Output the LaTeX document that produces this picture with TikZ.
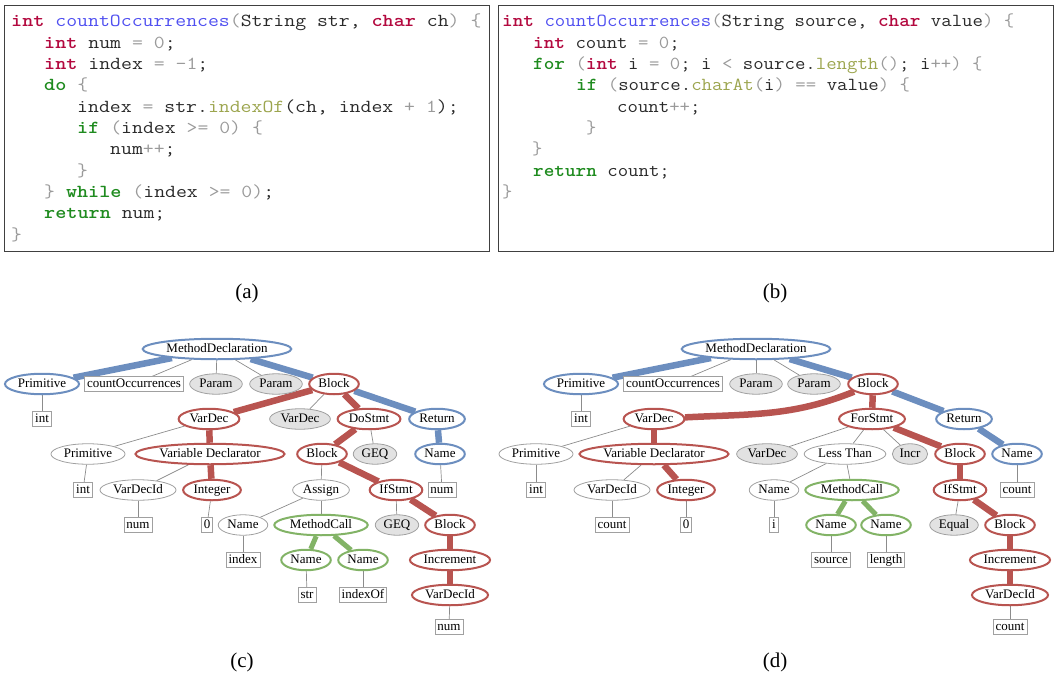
\documentclass[tikz,border=0pt]{standalone}
\usepackage{fontspec}
\setmainfont{Liberation Serif}
\usetikzlibrary{shapes.geometric}
\definecolor{cblue}{HTML}{6C8EBF}
\definecolor{cred}{HTML}{B85450}
\definecolor{cgreen}{HTML}{82B366}
\definecolor{kwred}{HTML}{B3093F}
\definecolor{kwgreen}{HTML}{1F8B1F}
\definecolor{fnblue}{HTML}{4F4FF0}
\definecolor{mcol}{HTML}{9CA54E}
\definecolor{opgray}{HTML}{9A9A9A}
\definecolor{txt}{HTML}{2A2A2A}
\definecolor{nodegray}{HTML}{A0A0A0}
\definecolor{edgegray}{HTML}{8C8C8C}
\definecolor{fillgray}{HTML}{E2E2E2}
\definecolor{boxline}{HTML}{404040}
\newcommand{\ckw}[1]{\textcolor{kwred}{\textbf{#1}}}
\newcommand{\ckg}[1]{\textcolor{kwgreen}{\textbf{#1}}}
\newcommand{\cfn}[1]{\textcolor{fnblue}{#1}}
\newcommand{\cme}[1]{\textcolor{mcol}{#1}}
\newcommand{\cop}[1]{\textcolor{opgray}{#1}}
\newcommand{\sca}[1]{\scalebox{0.98}[0.85]{#1}}
\newcommand{\scb}[1]{\scalebox{0.937}[0.85]{#1}}
\pgfdeclarelayer{bg}
\pgfsetlayers{bg,main}
\tikzset{
  ast/.style={ellipse, inner xsep=2pt, inner ysep=0pt, minimum height=20.5pt,
    text height=9pt, text depth=2.5pt, fill=white, font=\fontsize{13}{15}\selectfont},
  plain/.style={ast, draw=nodegray, line width=0.8pt},
  grey/.style={ast, draw=nodegray, line width=0.8pt, fill=fillgray},
  bnode/.style={ast, draw=cblue, line width=2pt},
  rnode/.style={ast, draw=cred, line width=2pt},
  gnode/.style={ast, draw=cgreen, line width=2pt},
  leaf/.style={rectangle, draw=nodegray, line width=0.8pt, inner xsep=2.5pt, inner ysep=1.5pt,
    text height=9pt, text depth=2.5pt, fill=white, font=\fontsize{13}{15}\selectfont},
  te/.style={draw=edgegray, line width=0.7pt},
  be/.style={draw=cblue, line width=6.5pt},
  re/.style={draw=cred, line width=6.5pt},
  ge/.style={draw=cgreen, line width=5pt},
  code/.style={anchor=base west, inner sep=0pt, text=txt, font=\ttfamily\frenchspacing\fontsize{21.6}{24}\selectfont},
  codebox/.style={draw=boxline, line width=1.3pt, anchor=north west, inner sep=0pt},
  caption/.style={font=\fontsize{21}{24}\selectfont},
}
\begin{document}
\begin{tikzpicture}[x=1pt,y=1pt]
\useasboundingbox (0,0) rectangle (1055,-677);
% ---------------- code boxes ----------------
\node[codebox, minimum width=485pt, minimum height=246pt] (boxa) at (4,-5) {};
\node[codebox, minimum width=555pt, minimum height=246pt] (boxb) at (497.5,-5) {};

\node[code] (a1) at (11,-27) {\sca{\ckw{int} \cfn{countOccurrences}\cop{(}String str, \ckw{char} ch\cop{)} \cop{\{}}};
\node[code] (a2) at (44,-48.3) {\sca{\ckw{int} num \cop{= 0};}};
\node[code] (a3) at (44,-69.6) {\sca{\ckw{int} index \cop{= -1};}};
\node[code] (a4) at (44,-90.9) {\sca{\ckg{do} \cop{\{}}};
\node[code] (a5) at (77,-112.2) {\sca{index \cop{=} str.\cme{indexOf}(ch, index \cop{+ 1});}};
\node[code] (a6) at (77,-133.5) {\sca{\ckg{if} \cop{(}index \cop{>= 0)} \cop{\{}}};
\node[code] (a7) at (110,-154.8) {\sca{num\cop{++};}};
\node[code] (a8) at (77,-176.1) {\sca{\cop{\}}}};
\node[code] (a9) at (44,-197.4) {\sca{\cop{\}} \ckg{while} \cop{(}index \cop{>= 0)};}};
\node[code] (a10) at (44,-218.7) {\sca{\ckg{return} num;}};
\node[code] (a11) at (11,-240) {\sca{\cop{\}}}};

\node[code] (b1) at (502,-27) {\scb{\ckw{int} \cfn{countOccurrences}\cop{(}String source, \ckw{char} value\cop{)} \cop{\{}}};
\node[code] (b2) at (533,-48.3) {\scb{\ckw{int} count \cop{= 0};}};
\node[code] (b3) at (533,-69.6) {\scb{\ckg{for} \cop{(}\ckw{int} i \cop{= 0}; i \cop{<} source.\cme{length}\cop{()}; i\cop{++)} \cop{\{}}};
\node[code] (b4) at (576,-90.9) {\scb{\ckg{if} \cop{(}source.\cme{charAt}\cop{(}i\cop{)} \cop{==} value\cop{)} \cop{\{}}};
\node[code] (b5) at (617,-112.2) {\scb{count\cop{++};}};
\node[code] (b6) at (586,-133.5) {\scb{\cop{\}}}};
\node[code] (b7) at (532,-154.8) {\scb{\cop{\}}}};
\node[code] (b8) at (533,-176.1) {\scb{\ckg{return} count;}};
\node[code] (b9) at (502,-197.4) {\scb{\cop{\}}}};

\node[caption] (capa) at (247,-293) {(a)};
\node[caption] (capb) at (775,-293) {(b)};
\node[caption] (capc) at (242,-662) {(c)};
\node[caption] (capd) at (775,-662) {(d)};

% ---------------- tree (c) ----------------
\node[bnode] (c-md) at (217,-349) {MethodDeclaration};
\node[bnode] (c-prim) at (42,-384) {Primitive};
\node[leaf]  (c-co) at (134,-384) {countOccurrences};
\node[grey]  (c-p1) at (216,-384) {Param};
\node[grey]  (c-p2) at (276,-384) {Param};
\node[rnode] (c-blk) at (334,-384) {Block};
\node[leaf]  (c-int1) at (42,-419) {int};
\node[rnode] (c-vd) at (209,-419) {VarDec};
\node[grey]  (c-vd2) at (300,-419) {VarDec};
\node[rnode] (c-do) at (369,-419) {DoStmt};
\node[bnode] (c-ret) at (437,-419) {Return};
\node[plain] (c-prim2) at (88,-454) {Primitive};
\node[rnode] (c-vdecl) at (210,-454) {Variable Declarator};
\node[rnode] (c-blk2) at (322,-454) {Block};
\node[grey]  (c-geq) at (375,-454) {GEQ};
\node[bnode] (c-nm) at (440,-454) {Name};
\node[leaf]  (c-int2) at (83,-490) {int};
\node[plain] (c-vdid) at (138,-490) {VarDecId};
\node[rnode] (c-intg) at (212,-490) {Integer};
\node[plain] (c-asg) at (321,-490) {Assign};
\node[rnode] (c-ifs) at (396,-490) {IfStmt};
\node[leaf]  (c-num1) at (442,-490) {num};
\node[leaf]  (c-num2) at (138,-525) {num};
\node[leaf]  (c-zero) at (207,-525) {0};
\node[plain] (c-nm2) at (243,-525) {Name};
\node[gnode] (c-mc) at (321,-525) {MethodCall};
\node[grey]  (c-geq2) at (397,-525) {GEQ};
\node[rnode] (c-blk3) at (450,-525) {Block};
\node[leaf]  (c-idx) at (243,-560) {index};
\node[gnode] (c-nm3) at (306,-560) {Name};
\node[gnode] (c-nm4) at (363,-560) {Name};
\node[rnode] (c-inc) at (450,-560) {Increment};
\node[leaf]  (c-str) at (307,-595) {str};
\node[leaf]  (c-iof) at (363,-595) {indexOf};
\node[rnode] (c-vdid2) at (450,-595) {VarDecId};
\node[leaf]  (c-num3) at (449,-627) {num};

% ---------------- tree (d) ----------------
\node[bnode] (d-md) at (756,-349) {MethodDeclaration};
\node[bnode] (d-prim) at (581,-384) {Primitive};
\node[leaf]  (d-co) at (673,-384) {countOccurrences};
\node[grey]  (d-p1) at (756,-384) {Param};
\node[grey]  (d-p2) at (814,-384) {Param};
\node[rnode] (d-blk) at (873,-384) {Block};
\node[leaf]  (d-int1) at (581,-419) {int};
\node[rnode] (d-vd) at (654,-419) {VarDec};
\node[rnode] (d-for) at (872,-419) {ForStmt};
\node[bnode] (d-ret) at (964,-419) {Return};
\node[plain] (d-prim2) at (536,-454) {Primitive};
\node[rnode] (d-vdecl) at (654,-454) {Variable Declarator};
\node[grey]  (d-vd2) at (767,-454) {VarDec};
\node[plain] (d-lt) at (845,-454) {Less Than};
\node[grey]  (d-incr) at (910,-454) {Incr};
\node[rnode] (d-blk2) at (960,-454) {Block};
\node[bnode] (d-nm) at (1017,-454) {Name};
\node[leaf]  (d-int2) at (536,-490) {int};
\node[plain] (d-vdid) at (612,-490) {VarDecId};
\node[rnode] (d-intg) at (686,-490) {Integer};
\node[plain] (d-nm2) at (774,-490) {Name};
\node[gnode] (d-mc) at (852,-490) {MethodCall};
\node[rnode] (d-ifs) at (960,-490) {IfStmt};
\node[leaf]  (d-cnt1) at (1017,-490) {count};
\node[leaf]  (d-cnt2) at (612,-525) {count};
\node[leaf]  (d-zero) at (686,-525) {0};
\node[leaf]  (d-i) at (774,-525) {i};
\node[gnode] (d-nm3) at (831,-525) {Name};
\node[gnode] (d-nm4) at (886,-525) {Name};
\node[grey]  (d-eq) at (954,-525) {Equal};
\node[rnode] (d-blk3) at (1010,-525) {Block};
\node[leaf]  (d-src) at (831,-560) {source};
\node[leaf]  (d-len) at (886,-560) {length};
\node[rnode] (d-inc) at (1010,-560) {Increment};
\node[rnode] (d-vdid2) at (1010,-595) {VarDecId};
\node[leaf]  (d-cnt3) at (1010,-627) {count};

% ---------------- edges ----------------
\begin{pgfonlayer}{bg}
% (c)
\draw[be] (c-md) -- (c-prim);
\draw[te] (c-md) -- (c-co);
\draw[te] (c-md) -- (c-p1);
\draw[te] (c-md) -- (c-p2);
\draw[be] (c-md) -- (c-blk);
\draw[te] (c-prim) -- (c-int1);
\draw[re] (c-blk) -- (c-vd);
\draw[te] (c-blk) -- (c-vd2);
\draw[re] (c-blk) -- (c-do);
\draw[be] (c-blk) -- (c-ret);
\draw[te] (c-vd) -- (c-prim2);
\draw[re] (c-vd) -- (c-vdecl);
\draw[re] (c-do) -- (c-blk2);
\draw[te] (c-do) -- (c-geq);
\draw[be] (c-ret) -- (c-nm);
\draw[te] (c-prim2) -- (c-int2);
\draw[te] (c-vdecl) -- (c-vdid);
\draw[re] (c-vdecl) -- (c-intg);
\draw[te] (c-blk2) -- (c-asg);
\draw[re] (c-blk2) -- (c-ifs);
\draw[te] (c-nm) -- (c-num1);
\draw[te] (c-vdid) -- (c-num2);
\draw[te] (c-intg) -- (c-zero);
\draw[te] (c-asg) -- (c-nm2);
\draw[te] (c-asg) -- (c-mc);
\draw[te] (c-ifs) -- (c-geq2);
\draw[re] (c-ifs) -- (c-blk3);
\draw[te] (c-nm2) -- (c-idx);
\draw[ge] (c-mc) -- (c-nm3);
\draw[ge] (c-mc) -- (c-nm4);
\draw[re] (c-blk3) -- (c-inc);
\draw[te] (c-nm3) -- (c-str);
\draw[te] (c-nm4) -- (c-iof);
\draw[re] (c-inc) -- (c-vdid2);
\draw[te] (c-vdid2) -- (c-num3);
% (d)
\draw[be] (d-md) -- (d-prim);
\draw[te] (d-md) -- (d-co);
\draw[te] (d-md) -- (d-p1);
\draw[te] (d-md) -- (d-p2);
\draw[be] (d-md) -- (d-blk);
\draw[te] (d-prim) -- (d-int1);
\draw[re] (d-blk) to[out=202,in=3] (d-vd);
\draw[re] (d-blk) -- (d-for);
\draw[be] (d-blk) -- (d-ret);
\draw[te] (d-vd) -- (d-prim2);
\draw[re] (d-vd) -- (d-vdecl);
\draw[te] (d-for) -- (d-vd2);
\draw[te] (d-for) -- (d-lt);
\draw[te] (d-for) -- (d-incr);
\draw[re] (d-for) -- (d-blk2);
\draw[be] (d-ret) -- (d-nm);
\draw[te] (d-prim2) -- (d-int2);
\draw[te] (d-vdecl) -- (d-vdid);
\draw[re] (d-vdecl) -- (d-intg);
\draw[te] (d-lt) -- (d-nm2);
\draw[te] (d-lt) -- (d-mc);
\draw[re] (d-blk2) -- (d-ifs);
\draw[te] (d-nm) -- (d-cnt1);
\draw[te] (d-vdid) -- (d-cnt2);
\draw[te] (d-intg) -- (d-zero);
\draw[te] (d-nm2) -- (d-i);
\draw[ge] (d-mc) -- (d-nm3);
\draw[ge] (d-mc) -- (d-nm4);
\draw[te] (d-ifs) -- (d-eq);
\draw[re] (d-ifs) -- (d-blk3);
\draw[te] (d-nm3) -- (d-src);
\draw[te] (d-nm4) -- (d-len);
\draw[re] (d-blk3) -- (d-inc);
\draw[re] (d-inc) -- (d-vdid2);
\draw[te] (d-vdid2) -- (d-cnt3);
\end{pgfonlayer}
\end{tikzpicture}
\end{document}
